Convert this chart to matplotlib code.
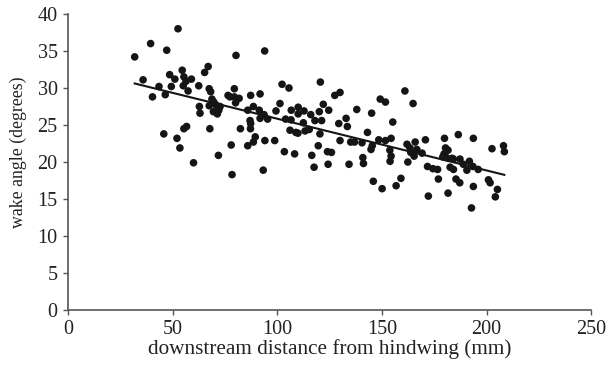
import numpy as np
import matplotlib.pyplot as plt

plt.rcParams['font.family'] = ['Liberation Serif', 'DejaVu Serif']

# distancia aguas abajo (mm) y angulo de estela (grados)
distance = [52.6, 39.5, 47.2, 31.9, 54.6, 48.6, 51.1, 55.4, 59.0, 56.4,
            35.9, 43.5, 49.4, 55.1, 62.5, 57.4, 40.4, 46.5, 62.8, 63.1,
            56.7, 55.4, 45.8, 52.1, 53.5, 60.0, 67.0, 65.3, 67.5, 68.2,
            79.5, 102.3, 105.6, 120.6, 76.5, 77.4, 79.5, 81.8, 80.1, 87.3,
            91.8, 101.3, 68.8, 69.7, 67.5, 70.8, 72.7, 72.1, 69.5, 71.4,
            88.6, 85.9, 91.4, 99.4, 93.7, 91.8, 95.4, 87.0, 87.3, 87.2,
            82.4, 67.8, 106.7, 110.0, 110.0, 112.8, 116.0, 120.1, 122.0, 124.6,
            104.0, 106.6, 112.5, 118.0, 121.2, 106.1, 108.9, 109.9, 113.3, 115.3,
            120.4, 89.5, 88.6, 85.9, 78.0, 94.1, 98.8, 119.6, 124.0, 103.4,
            108.3, 116.5, 71.9, 117.6, 124.3, 93.3, 78.4, 80.3, 94.0, 127.5,
            130.0, 138.0, 145.1, 149.2, 151.7, 161.0, 164.9, 155.2, 129.4, 132.9,
            133.5, 143.1, 130.0, 135.1, 136.9, 140.5, 145.4, 144.8, 148.5, 151.7,
            154.4, 153.8, 154.4, 153.9, 162.0, 163.4, 165.9, 163.8, 166.7, 165.4,
            169.2, 170.8, 162.4, 125.9, 134.3, 140.9, 141.2, 145.9, 150.1, 156.8,
            159.1, 172.2, 179.9, 186.5, 180.4, 181.6, 179.7, 179.1, 180.9, 183.5,
            171.8, 174.4, 176.6, 182.6, 184.2, 177.0, 185.4, 181.6, 187.2, 193.7,
            202.6, 208.1, 208.5, 184.2, 187.3, 191.8, 188.9, 193.5, 190.6, 196.0,
            193.7, 200.9, 201.7, 205.2, 204.2, 192.8]
angle = [38.0, 36.0, 35.1, 34.2, 32.4, 31.8, 31.2, 31.5, 31.2, 30.9,
         31.1, 30.2, 30.2, 30.3, 30.3, 29.6, 28.8, 29.1, 27.5, 26.6,
         24.8, 24.5, 23.8, 23.2, 21.9, 19.9, 32.9, 32.1, 29.9, 29.5,
         29.9, 30.5, 30.0, 30.8, 29.0, 28.8, 28.8, 28.6, 28.0, 29.0,
         29.2, 27.9, 28.5, 28.1, 27.6, 27.7, 27.5, 27.0, 26.8, 26.5,
         27.5, 27.0, 27.0, 26.9, 26.4, 25.9, 25.8, 25.6, 25.2, 24.5,
         24.5, 24.5, 27.0, 27.4, 26.5, 26.9, 26.4, 26.8, 27.8, 27.0,
         25.8, 25.7, 25.3, 25.6, 25.6, 24.3, 24.0, 23.9, 24.2, 24.4,
         23.8, 23.4, 22.7, 22.2, 22.3, 22.9, 22.9, 22.2, 21.4, 21.4,
         21.1, 20.9, 20.9, 19.3, 19.7, 18.9, 18.3, 34.4, 35.0, 29.0,
         29.4, 27.1, 26.6, 28.5, 28.1, 29.6, 27.9, 25.4, 25.2, 25.9,
         24.8, 24.0, 22.9, 22.7, 22.7, 22.6, 22.2, 21.7, 23.0, 22.9,
         23.2, 21.6, 20.8, 20.1, 22.4, 21.9, 22.7, 21.3, 21.7, 20.8,
         21.2, 23.0, 20.0, 21.3, 19.7, 20.6, 19.8, 17.4, 16.4, 16.8,
         17.8, 15.4, 23.2, 23.7, 21.9, 21.6, 21.1, 20.7, 20.6, 20.5,
         19.4, 19.1, 19.0, 19.3, 19.0, 17.7, 17.7, 15.8, 17.2, 23.2,
         21.8, 22.2, 21.4, 20.4, 20.4, 20.1, 19.7, 19.4, 18.9, 19.0,
         16.7, 17.6, 17.2, 16.3, 15.3, 13.8]

x = np.array(distance)
y = np.array(angle)

fig = plt.figure(figsize=(6.12, 3.67), dpi=100)
ax = fig.add_axes([0.111, 0.155, 0.855, 0.807])

ax.scatter(x, y, s=30, color='#151515', edgecolors='none', zorder=3)

# recta de regresion
m, b = np.polyfit(x, y, 1)
xl = np.array([x.min(), x.max()])
ax.plot(xl, m * xl + b, color='#151515', lw=1.5, zorder=2)

ax.set_xlim(0, 250)
ax.set_ylim(0, 40)
ax.set_xticks(range(0, 251, 50))
ax.set_yticks(range(0, 41, 5))
for s in ['top', 'right']:
    ax.spines[s].set_visible(False)
for s in ['left', 'bottom']:
    ax.spines[s].set_color('#555555')
    ax.spines[s].set_linewidth(1.2)
ax.tick_params(direction='out', length=3.5, width=1, color='#555555',
               labelsize=14.5, labelcolor='#222222')
ax.tick_params(axis='x', pad=3.5)
ax.tick_params(axis='y', pad=4)
ax.set_xlabel('downstream distance from hindwing (mm)', fontsize=15.3,
              color='#222222', labelpad=0)
ax.set_ylabel('wake angle (degrees)', fontsize=12.8, color='#222222')
ax.yaxis.set_label_coords(-0.078, 0.534)

fig.savefig('out.png', dpi=100)
